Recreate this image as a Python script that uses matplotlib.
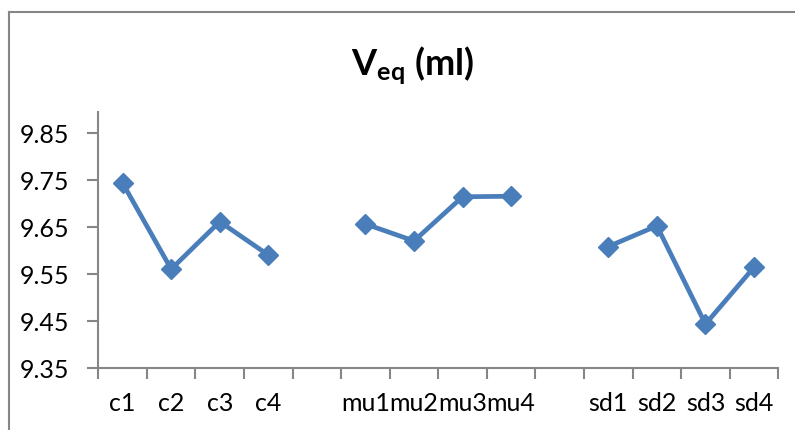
import numpy as np
import matplotlib
matplotlib.use("Agg")
import matplotlib.pyplot as plt
from matplotlib.lines import Line2D

# equivalence volumes per sample; empty slots separate the groups
categories = ["c1", "c2", "c3", "c4", "",
              "mu1", "mu2", "mu3", "mu4", "",
              "sd1", "sd2", "sd3", "sd4"]
v_eq = [9.744, 9.561, 9.662, 9.591, np.nan,
        9.657, 9.621, 9.715, 9.716, np.nan,
        9.609, 9.653, 9.444, 9.565]
y_ticks = [9.35, 9.45, 9.55, 9.65, 9.75, 9.85]

plt.rcParams["font.family"] = ["Lato", "DejaVu Sans"]
plt.rcParams["mathtext.fontset"] = "custom"
plt.rcParams["mathtext.bf"] = "Lato:bold"
plt.rcParams["mathtext.rm"] = "Lato"

BLUE = "#4a7ebb"
GREY = "#868686"

fig = plt.figure(figsize=(7.95, 4.3), dpi=100)
ax = fig.add_axes([0.1237, 0.1435, 0.979 - 0.1237, 0.7403 - 0.1435])

x = np.arange(len(categories))
ax.plot(x, v_eq, color=BLUE, lw=3.4, marker="D", ms=10.5,
        markeredgecolor=BLUE, markerfacecolor=BLUE, solid_joinstyle="round")

ax.set_xlim(-0.5, len(categories) - 0.5)
ax.set_ylim(9.35, 9.896)
ax.set_yticks(y_ticks)
ax.set_yticklabels([f"{v:.2f}" for v in y_ticks])
ax.set_xticks(x)
ax.set_xticklabels(categories)
# boundary ticks between categories, as in a spreadsheet category axis
ax.set_xticks(np.arange(-0.5, len(categories)), minor=True)
ax.tick_params(axis="x", which="major", length=0, pad=17, labelsize=18)
ax.tick_params(axis="x", which="minor", length=8, width=1.5, color=GREY)
ax.tick_params(axis="y", length=8, width=1.5, color=GREY, pad=13, labelsize=18)

for side in ("top", "right"):
    ax.spines[side].set_visible(False)
for side in ("left", "bottom"):
    ax.spines[side].set_color(GREY)
    ax.spines[side].set_linewidth(1.5)

fig.text(412 / 795, 1 - 66 / 430, r"$\mathbf{V_{eq}}$ (ml)", ha="center", va="center",
         fontsize=26, fontweight="bold")

# chart frame (left and top edges)
fig.add_artist(Line2D([9 / 795, 9 / 795], [0, 1 - 12 / 430], transform=fig.transFigure,
                      color=GREY, lw=1.5))
fig.add_artist(Line2D([9 / 795, 1], [1 - 12 / 430, 1 - 12 / 430], transform=fig.transFigure,
                      color=GREY, lw=1.5))

fig.savefig("out.png", dpi=100)
